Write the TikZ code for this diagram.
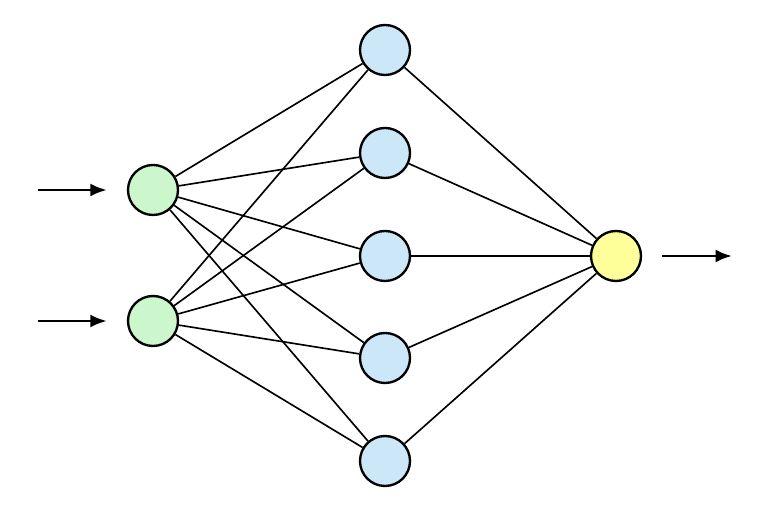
\documentclass[tikz,border=0pt]{standalone}
\usetikzlibrary{arrows.meta}
\definecolor{cin}{HTML}{CCF7CC}
\definecolor{chid}{HTML}{CCE8F8}
\definecolor{cout}{HTML}{FFFF99}
\tikzset{neuron/.style={circle, draw, line width=2pt, minimum size=1.5cm, inner sep=0pt}}
\tikzset{feed/.style={line width=2.2pt, -{Latex[length=14pt, width=11pt]}}}
\begin{document}
\begin{tikzpicture}[x=0.03cm, y=-0.03cm]
    \useasboundingbox(0, 0)rectangle(770, 513);
    \node[neuron, fill=cin](i1) at(153, 190){};
    \node[neuron, fill=cin](i2) at(153, 321){};
    \foreach \k/\y in {1/50, 2/153, 3/256, 4/358, 5/461}
        \node[neuron, fill=chid](h\k) at(385, \y){};
    \node[neuron, fill=cout](o) at(616, 256){};
    \foreach \k in {1, ..., 5}{
        \draw[line width=1.4pt](i1)--(h\k);
        \draw[line width=1.4pt](i2)--(h\k);
        \draw[line width=1.4pt](h\k)--(o);
    }
    \coordinate(a1) at(38, 190);
    \coordinate(a2) at(38, 321);
    \coordinate(b) at(732, 256);
    \draw[feed](a1)--([xshift=-0.6cm]i1.west);
    \draw[feed](a2)--([xshift=-0.6cm]i2.west);
    \draw[feed]([xshift=0.6cm]o.east)--(b);
\end{tikzpicture}
\end{document}
